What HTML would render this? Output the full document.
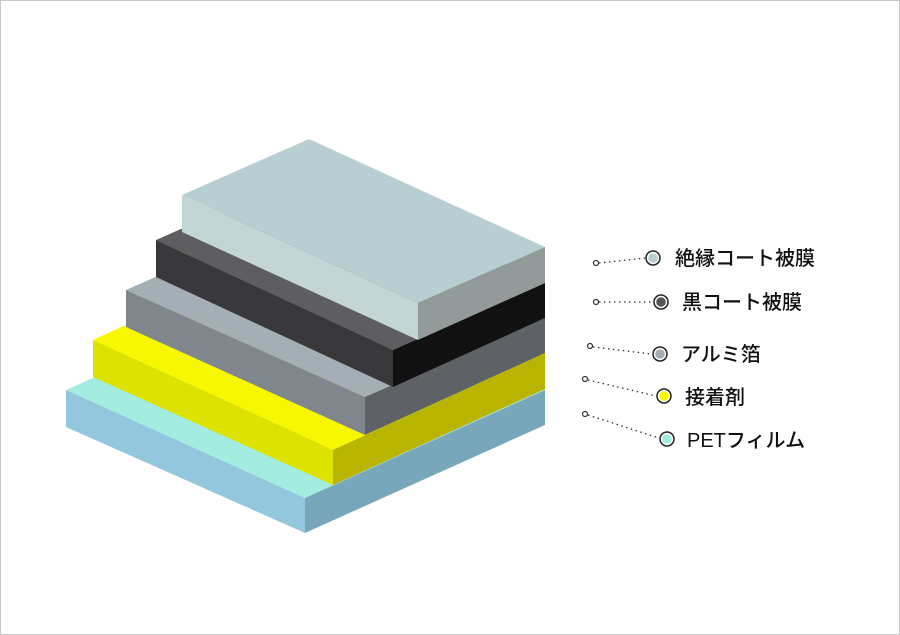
<!DOCTYPE html>
<html><head><meta charset="utf-8"><style>
html,body{margin:0;padding:0;background:#fff;}
.wrap{width:898px;height:633px;border:1px solid #c8c8c8;position:relative;overflow:hidden;}
svg{position:absolute;left:-1px;top:-1px;}
text{font-family:"Liberation Sans","Noto Sans CJK JP",sans-serif;font-size:20px;font-weight:500;fill:#111;}
</style></head><body><div class="wrap">
<svg width="900" height="635" viewBox="0 0 900 635">
<polygon points="66,390 305,498 545,390 306,282" fill="#a2ede0"/>
<polygon points="66,390 305,498 305,533 66,427" fill="#93c7dd"/>
<polygon points="305,498 545,390 545,425 305,533" fill="#78a7bb"/>
<polygon points="93,340 333,450 545,353 305,243" fill="#f7f700"/>
<polygon points="93,340 333,450 333,485 93,377" fill="#dde200"/>
<polygon points="333,450 545,353 545,389 333,485" fill="#b8b400"/>
<polygon points="126,290 365,397 545,318 306,211" fill="#a3afb5"/>
<polygon points="126,290 365,397 365,435 126,327" fill="#7f878d"/>
<polygon points="365,397 545,318 545,353 365,435" fill="#5e6266"/>
<polygon points="156,240 393,350 545,283 308,173" fill="#5e5e60"/>
<polygon points="156,240 393,350 393,387 156,277" fill="#38383a"/>
<polygon points="393,350 545,283 545,318 393,387" fill="#111111"/>
<polygon points="182,195 418,303 545,247 309,139" fill="#b7ced2"/>
<polygon points="182,195 418,303 418,340 182,232" fill="#c3d5d5"/>
<polygon points="418,303 545,247 545,283 418,340" fill="#929a9a"/>
<g stroke="#333" stroke-width="1.3" fill="none" stroke-dasharray="1.5 3.5">
<line x1="599" y1="263" x2="645" y2="258"/>
<line x1="599" y1="302" x2="653" y2="302"/>
<line x1="593" y1="347" x2="652" y2="354"/>
<line x1="588" y1="380" x2="656" y2="396"/>
<line x1="588" y1="415" x2="659" y2="438"/>
</g>
<g stroke="#333" stroke-width="1.2" fill="#fff">
<circle cx="596" cy="263" r="2.5"/><circle cx="596" cy="302" r="2.5"/>
<circle cx="590" cy="346" r="2.5"/><circle cx="585" cy="379" r="2.5"/>
<circle cx="585" cy="414" r="2.5"/>
</g>
<g stroke="#222" stroke-width="1.5" fill="#fff">
<circle cx="653" cy="258" r="7"/><circle cx="661" cy="302" r="7"/>
<circle cx="660" cy="354" r="7"/><circle cx="664" cy="396" r="7"/>
<circle cx="667" cy="439" r="7"/>
</g>
<circle cx="653" cy="258" r="4.8" fill="#b7ced2"/>
<circle cx="661" cy="302" r="4.8" fill="#555"/>
<circle cx="660" cy="354" r="4.8" fill="#a3afb5"/>
<circle cx="664" cy="396" r="4.8" fill="#f7f700"/>
<circle cx="667" cy="439" r="4.8" fill="#a2ede0"/>
<text x="675" y="265">絶縁コート被膜</text>
<text x="682" y="309">黒コート被膜</text>
<text x="681" y="361">アルミ箔</text>
<text x="685" y="404">接着剤</text>
<text x="687" y="447">PETフィルム</text>
</svg></div></body></html>
